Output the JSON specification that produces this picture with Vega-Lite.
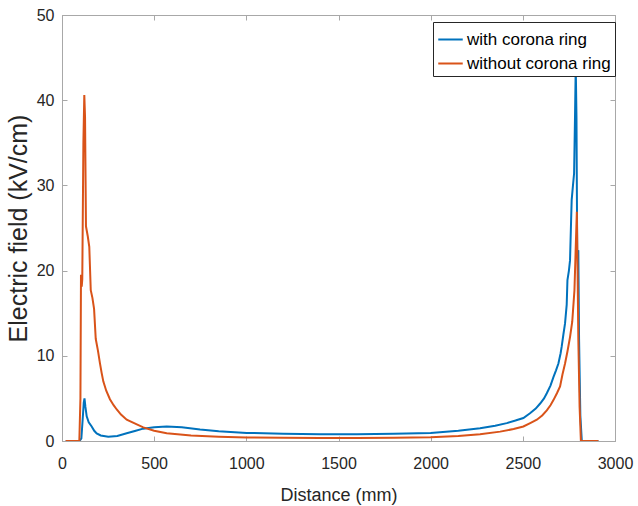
{
  "$schema": "https://vega.github.io/schema/vega-lite/v6.json",
  "width": 553,
  "height": 426,
  "autosize": {"type": "none"},
  "padding": {"left": 62, "top": 15, "right": 23, "bottom": 65},
  "background": "white",
  "config": {
    "view": {"stroke": "#a8a8a8", "strokeWidth": 1},
    "font": "Liberation Sans",
    "axis": {"grid": false, "domainColor": "#a8a8a8", "tickColor": "#a8a8a8", "labelColor": "#262626", "titleColor": "#262626", "labelFont": "Liberation Sans", "titleFont": "Liberation Sans", "titleFontWeight": "normal", "labelFontSize": 16, "tickSize": -5}
  },
  "datasets": {
    "field": [
      {"x": 20, "y": 0, "s": "with corona ring"},
      {"x": 95, "y": 0, "s": "with corona ring"},
      {"x": 105, "y": 0.3, "s": "with corona ring"},
      {"x": 112, "y": 2.5, "s": "with corona ring"},
      {"x": 118, "y": 4.5, "s": "with corona ring"},
      {"x": 122, "y": 5.0, "s": "with corona ring"},
      {"x": 127, "y": 4.0, "s": "with corona ring"},
      {"x": 134, "y": 2.9, "s": "with corona ring"},
      {"x": 145, "y": 2.2, "s": "with corona ring"},
      {"x": 161, "y": 1.7, "s": "with corona ring"},
      {"x": 175, "y": 1.2, "s": "with corona ring"},
      {"x": 188, "y": 0.9, "s": "with corona ring"},
      {"x": 210, "y": 0.65, "s": "with corona ring"},
      {"x": 251, "y": 0.5, "s": "with corona ring"},
      {"x": 300, "y": 0.6, "s": "with corona ring"},
      {"x": 351, "y": 0.9, "s": "with corona ring"},
      {"x": 400, "y": 1.2, "s": "with corona ring"},
      {"x": 440, "y": 1.45, "s": "with corona ring"},
      {"x": 500, "y": 1.6, "s": "with corona ring"},
      {"x": 568, "y": 1.7, "s": "with corona ring"},
      {"x": 650, "y": 1.6, "s": "with corona ring"},
      {"x": 749, "y": 1.35, "s": "with corona ring"},
      {"x": 850, "y": 1.15, "s": "with corona ring"},
      {"x": 1002, "y": 0.95, "s": "with corona ring"},
      {"x": 1200, "y": 0.85, "s": "with corona ring"},
      {"x": 1400, "y": 0.8, "s": "with corona ring"},
      {"x": 1600, "y": 0.8, "s": "with corona ring"},
      {"x": 1800, "y": 0.85, "s": "with corona ring"},
      {"x": 2000, "y": 0.95, "s": "with corona ring"},
      {"x": 2150, "y": 1.2, "s": "with corona ring"},
      {"x": 2268, "y": 1.5, "s": "with corona ring"},
      {"x": 2350, "y": 1.8, "s": "with corona ring"},
      {"x": 2413, "y": 2.1, "s": "with corona ring"},
      {"x": 2460, "y": 2.4, "s": "with corona ring"},
      {"x": 2503, "y": 2.7, "s": "with corona ring"},
      {"x": 2539, "y": 3.25, "s": "with corona ring"},
      {"x": 2570, "y": 3.8, "s": "with corona ring"},
      {"x": 2594, "y": 4.4, "s": "with corona ring"},
      {"x": 2615, "y": 5.0, "s": "with corona ring"},
      {"x": 2630, "y": 5.6, "s": "with corona ring"},
      {"x": 2650, "y": 6.5, "s": "with corona ring"},
      {"x": 2666, "y": 7.5, "s": "with corona ring"},
      {"x": 2680, "y": 8.3, "s": "with corona ring"},
      {"x": 2693, "y": 9.1, "s": "with corona ring"},
      {"x": 2705, "y": 10.3, "s": "with corona ring"},
      {"x": 2711, "y": 11.1, "s": "with corona ring"},
      {"x": 2720, "y": 12.5, "s": "with corona ring"},
      {"x": 2729, "y": 13.8, "s": "with corona ring"},
      {"x": 2738, "y": 16, "s": "with corona ring"},
      {"x": 2742, "y": 18.9, "s": "with corona ring"},
      {"x": 2750, "y": 20, "s": "with corona ring"},
      {"x": 2756, "y": 21.2, "s": "with corona ring"},
      {"x": 2762, "y": 26, "s": "with corona ring"},
      {"x": 2765, "y": 28.3, "s": "with corona ring"},
      {"x": 2772, "y": 30, "s": "with corona ring"},
      {"x": 2778, "y": 31.4, "s": "with corona ring"},
      {"x": 2783, "y": 38, "s": "with corona ring"},
      {"x": 2787, "y": 44, "s": "with corona ring"},
      {"x": 2791, "y": 38, "s": "with corona ring"},
      {"x": 2795, "y": 22, "s": "with corona ring"},
      {"x": 2801, "y": 22.4, "s": "with corona ring"},
      {"x": 2805, "y": 12, "s": "with corona ring"},
      {"x": 2812, "y": 3, "s": "with corona ring"},
      {"x": 2820, "y": 0, "s": "with corona ring"},
      {"x": 2910, "y": 0, "s": "with corona ring"},
      {"x": 20, "y": 0, "s": "without corona ring"},
      {"x": 94, "y": 0, "s": "without corona ring"},
      {"x": 100, "y": 5, "s": "without corona ring"},
      {"x": 103, "y": 19.5, "s": "without corona ring"},
      {"x": 107, "y": 18.1, "s": "without corona ring"},
      {"x": 110, "y": 19, "s": "without corona ring"},
      {"x": 116, "y": 35, "s": "without corona ring"},
      {"x": 121, "y": 40.6, "s": "without corona ring"},
      {"x": 125, "y": 38, "s": "without corona ring"},
      {"x": 130, "y": 25.2, "s": "without corona ring"},
      {"x": 140, "y": 24, "s": "without corona ring"},
      {"x": 148, "y": 22.8, "s": "without corona ring"},
      {"x": 156, "y": 17.7, "s": "without corona ring"},
      {"x": 165, "y": 16.8, "s": "without corona ring"},
      {"x": 174, "y": 15.5, "s": "without corona ring"},
      {"x": 183, "y": 12, "s": "without corona ring"},
      {"x": 195, "y": 10.6, "s": "without corona ring"},
      {"x": 206, "y": 9.1, "s": "without corona ring"},
      {"x": 215, "y": 8.0, "s": "without corona ring"},
      {"x": 224, "y": 7.0, "s": "without corona ring"},
      {"x": 240, "y": 5.9, "s": "without corona ring"},
      {"x": 260, "y": 4.9, "s": "without corona ring"},
      {"x": 280, "y": 4.2, "s": "without corona ring"},
      {"x": 297, "y": 3.7, "s": "without corona ring"},
      {"x": 320, "y": 3.1, "s": "without corona ring"},
      {"x": 351, "y": 2.5, "s": "without corona ring"},
      {"x": 400, "y": 2.0, "s": "without corona ring"},
      {"x": 441, "y": 1.6, "s": "without corona ring"},
      {"x": 500, "y": 1.2, "s": "without corona ring"},
      {"x": 568, "y": 0.9, "s": "without corona ring"},
      {"x": 700, "y": 0.65, "s": "without corona ring"},
      {"x": 850, "y": 0.5, "s": "without corona ring"},
      {"x": 1002, "y": 0.42, "s": "without corona ring"},
      {"x": 1200, "y": 0.38, "s": "without corona ring"},
      {"x": 1400, "y": 0.35, "s": "without corona ring"},
      {"x": 1600, "y": 0.35, "s": "without corona ring"},
      {"x": 1800, "y": 0.38, "s": "without corona ring"},
      {"x": 2000, "y": 0.45, "s": "without corona ring"},
      {"x": 2150, "y": 0.6, "s": "without corona ring"},
      {"x": 2268, "y": 0.8, "s": "without corona ring"},
      {"x": 2377, "y": 1.1, "s": "without corona ring"},
      {"x": 2450, "y": 1.4, "s": "without corona ring"},
      {"x": 2503, "y": 1.7, "s": "without corona ring"},
      {"x": 2540, "y": 2.1, "s": "without corona ring"},
      {"x": 2576, "y": 2.5, "s": "without corona ring"},
      {"x": 2605, "y": 3.0, "s": "without corona ring"},
      {"x": 2630, "y": 3.6, "s": "without corona ring"},
      {"x": 2650, "y": 4.2, "s": "without corona ring"},
      {"x": 2666, "y": 4.8, "s": "without corona ring"},
      {"x": 2685, "y": 5.6, "s": "without corona ring"},
      {"x": 2702, "y": 6.4, "s": "without corona ring"},
      {"x": 2715, "y": 7.8, "s": "without corona ring"},
      {"x": 2729, "y": 9.1, "s": "without corona ring"},
      {"x": 2742, "y": 10.5, "s": "without corona ring"},
      {"x": 2756, "y": 12.2, "s": "without corona ring"},
      {"x": 2768, "y": 14, "s": "without corona ring"},
      {"x": 2780, "y": 17.7, "s": "without corona ring"},
      {"x": 2786, "y": 22, "s": "without corona ring"},
      {"x": 2793, "y": 26.9, "s": "without corona ring"},
      {"x": 2797, "y": 20, "s": "without corona ring"},
      {"x": 2801, "y": 12, "s": "without corona ring"},
      {"x": 2808, "y": 4, "s": "without corona ring"},
      {"x": 2815, "y": 0, "s": "without corona ring"},
      {"x": 2910, "y": 0, "s": "without corona ring"}
    ]
  },
  "data": {"name": "field"},
  "layer": [
    {
      "mark": {"type": "line", "strokeWidth": 2, "clip": true},
      "encoding": {
        "x": {"field": "x", "type": "quantitative", "scale": {"domain": [0, 3000], "nice": false},
              "axis": {"title": "Distance (mm)", "titleFontSize": 18, "values": [0, 500, 1000, 1500, 2000, 2500, 3000], "format": "d", "labelPadding": 19, "titlePadding": 15, "labelFlush": false}},
        "y": {"field": "y", "type": "quantitative", "scale": {"domain": [0, 50], "nice": false},
              "axis": {"title": "Electric field (kV/cm)", "titleFontSize": 25, "values": [0, 10, 20, 30, 40, 50], "format": "d", "labelPadding": 13, "titlePadding": 5, "labelFlush": false}},
        "color": {"field": "s", "type": "nominal",
                  "scale": {"domain": ["with corona ring", "without corona ring"], "range": ["#0072BD", "#D95319"]},
                  "legend": {"title": null, "orient": "none", "legendX": 371, "legendY": 7, "strokeColor": "#262626", "fillColor": "white", "padding": 4, "symbolType": "stroke", "symbolSize": 600, "symbolStrokeWidth": 2, "labelFontSize": 17, "labelColor": "#000000", "rowPadding": 2, "labelOffset": 3}}
      }
    },
    {
      "mark": {"type": "point", "opacity": 0, "size": 0},
      "encoding": {
        "x": {"field": "x", "type": "quantitative", "scale": {"domain": [0, 3000], "nice": false},
              "axis": {"orient": "top", "title": null, "labels": false, "values": [0, 500, 1000, 1500, 2000, 2500, 3000]}},
        "y": {"field": "y", "type": "quantitative", "scale": {"domain": [0, 50], "nice": false},
              "axis": {"orient": "right", "title": null, "labels": false, "values": [0, 10, 20, 30, 40, 50]}}
      }
    }
  ],
  "resolve": {"axis": {"x": "independent", "y": "independent"}}
}
